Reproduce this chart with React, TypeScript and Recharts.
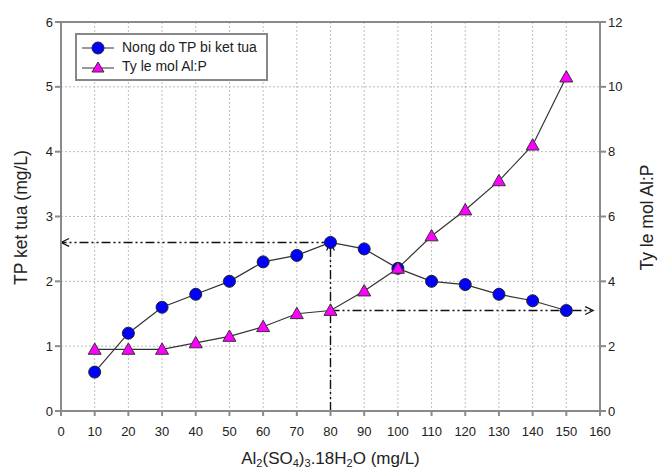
import React from 'react';
import {
  ComposedChart,
  Line,
  XAxis,
  YAxis,
  CartesianGrid,
  ReferenceLine,
  Legend,
} from 'recharts';

const doses = [10, 20, 30, 40, 50, 60, 70, 80, 90, 100, 110, 120, 130, 140, 150];
const tpPrecip = [0.6, 1.2, 1.6, 1.8, 2.0, 2.3, 2.4, 2.6, 2.5, 2.2, 2.0, 1.95, 1.8, 1.7, 1.55];
const molRatio = [1.9, 1.9, 1.9, 2.1, 2.3, 2.6, 3.0, 3.1, 3.7, 4.4, 5.4, 6.2, 7.1, 8.2, 10.3];

const xTicks = [0, 10, 20, 30, 40, 50, 60, 70, 80, 90, 100, 110, 120, 130, 140, 150, 160];
const leftTicks = [0, 1, 2, 3, 4, 5, 6];
const rightTicks = [0, 2, 4, 6, 8, 10, 12];

const data = doses.map((d, i) => ({ dose: d, tp: tpPrecip[i], ratio: molRatio[i] }));

const FONT = '"Liberation Sans", Arial, sans-serif';
const AXIS = '#8a8a8a';
const DASH = '9 3 2 3 2 3';

// dash-dot line with an open arrow head at (x2, y2)
const arrowLine = (props: any) => {
  const { x1, y1, x2, y2 } = props;
  const ang = Math.atan2(y2 - y1, x2 - x1);
  const len = 9;
  const spread = 0.45;
  const ax = x2 - len * Math.cos(ang - spread);
  const ay = y2 - len * Math.sin(ang - spread);
  const bx = x2 - len * Math.cos(ang + spread);
  const by = y2 - len * Math.sin(ang + spread);
  return (
    <g>
      <line x1={x1} y1={y1} x2={x2} y2={y2} stroke="#111" strokeWidth={1.4} strokeDasharray={DASH} />
      <polyline points={`${ax},${ay} ${x2},${y2} ${bx},${by}`} fill="none" stroke="#111" strokeWidth={1.2} />
    </g>
  );
};

const Triangle = (props: any) => {
  const { cx, cy } = props;
  if (cx == null || cy == null) return null;
  const s = 6.5;
  return (
    <polygon
      points={`${cx},${cy - s} ${cx - s},${cy + s * 0.75} ${cx + s},${cy + s * 0.75}`}
      fill="#ff00ff"
      stroke="#333"
      strokeWidth={1}
    />
  );
};

const Dot = (props: any) => {
  const { cx, cy } = props;
  if (cx == null || cy == null) return null;
  return <circle cx={cx} cy={cy} r={6} fill="#0000ff" stroke="#222" strokeWidth={1} />;
};

const LegendBox = () => (
  <div
    style={{
      border: '2px solid #888',
      background: '#fff',
      padding: '3px 6px 3px 5px',
      fontFamily: FONT,
      fontSize: 14,
      color: '#222',
      lineHeight: '19px',
      width: 178,
    }}
  >
    <div style={{ display: 'flex', alignItems: 'center' }}>
      <svg width={32} height={16} style={{ marginRight: 8 }}>
        <line x1={0} y1={8} x2={32} y2={8} stroke="#333" />
        <circle cx={16} cy={8} r={6} fill="#0000ff" stroke="#222" />
      </svg>
      Nong do TP bi ket tua
    </div>
    <div style={{ display: 'flex', alignItems: 'center' }}>
      <svg width={32} height={16} style={{ marginRight: 8 }}>
        <line x1={0} y1={9} x2={32} y2={9} stroke="#333" />
        <polygon points="16,3 10,13 22,13" fill="#ff00ff" stroke="#333" />
      </svg>
      Ty le mol Al:P
    </div>
  </div>
);

const XLabel = (props: any) => {
  const { viewBox } = props;
  const cx = viewBox.x + viewBox.width / 2;
  const y = viewBox.y + 53;
  return (
    <text x={cx} y={y} textAnchor="middle" fontFamily={FONT} fontSize={17} fill="#222">
      <tspan>Al</tspan>
      <tspan fontSize={11} dy={3}>2</tspan>
      <tspan dy={-3}>(SO</tspan>
      <tspan fontSize={11} dy={3}>4</tspan>
      <tspan dy={-3}>)</tspan>
      <tspan fontSize={11} dy={3}>3</tspan>
      <tspan dy={-3}>.18H</tspan>
      <tspan fontSize={11} dy={3}>2</tspan>
      <tspan dy={-3}>O (mg/L)</tspan>
    </text>
  );
};

const SideLabel = (props: any) => {
  const { viewBox, value, dx } = props;
  const x = viewBox.x + dx;
  const y = viewBox.y + viewBox.height / 2 + 1;
  return (
    <text
      x={x}
      y={y}
      transform={`rotate(-90, ${x}, ${y})`}
      textAnchor="middle"
      dominantBaseline="central"
      fontFamily={FONT}
      fontSize={17.5}
      fill="#222"
    >
      {value}
    </text>
  );
};

export default function App() {
  return (
    <div style={{ position: 'absolute', left: 0, top: 0, background: '#fff' }}>
      <ComposedChart
        width={658}
        height={471}
        data={data}
        margin={{ top: 22, right: 0, bottom: 0, left: 0 }}
      >
        <CartesianGrid stroke="#bdbdbd" strokeDasharray="2 2" yAxisId="left" />
        <XAxis
          dataKey="dose"
          type="number"
          domain={[0, 160]}
          ticks={xTicks}
          interval={0}
          height={60}
          stroke={AXIS}
          strokeWidth={2}
          tickSize={5}
          tickMargin={11}
          tick={{ fill: '#222', fontSize: 13, fontFamily: FONT }}
          label={<XLabel />}
        />
        <YAxis
          yAxisId="left"
          domain={[0, 6]}
          ticks={leftTicks}
          width={61}
          stroke={AXIS}
          strokeWidth={2}
          tickSize={6}
          tick={{ fill: '#222', fontSize: 13, fontFamily: FONT }}
          label={<SideLabel value="TP ket tua (mg/L)" dx={21} />}
        />
        <YAxis
          yAxisId="right"
          orientation="right"
          domain={[0, 12]}
          ticks={rightTicks}
          width={58}
          stroke={AXIS}
          strokeWidth={2}
          tickSize={6}
          tick={{ fill: '#222', fontSize: 13, fontFamily: FONT }}
          label={<SideLabel value="Ty le mol Al:P" dx={47} />}
        />
        <ReferenceLine yAxisId="left" y={6} stroke={AXIS} strokeWidth={2} />
        <ReferenceLine
          yAxisId="left"
          segment={[{ x: 80, y: 2.6 }, { x: 0, y: 2.6 }]}
          shape={arrowLine}
        />
        <ReferenceLine
          yAxisId="left"
          segment={[{ x: 80, y: 0 }, { x: 80, y: 2.6 }]}
          shape={arrowLine}
        />
        <ReferenceLine
          yAxisId="right"
          segment={[{ x: 80, y: 3.1 }, { x: 158, y: 3.1 }]}
          shape={arrowLine}
        />
        <Line
          yAxisId="left"
          dataKey="tp"
          stroke="#333"
          strokeWidth={1.2}
          dot={<Dot />}
          activeDot={false}
          isAnimationActive={false}
        />
        <Line
          yAxisId="right"
          dataKey="ratio"
          stroke="#333"
          strokeWidth={1.2}
          dot={<Triangle />}
          activeDot={false}
          isAnimationActive={false}
        />
        <Legend
          layout="vertical"
          align="center"
          verticalAlign="middle"
          content={<LegendBox />}
          wrapperStyle={{ left: 75, top: 33, width: 'auto' }}
        />
      </ComposedChart>
    </div>
  );
}
